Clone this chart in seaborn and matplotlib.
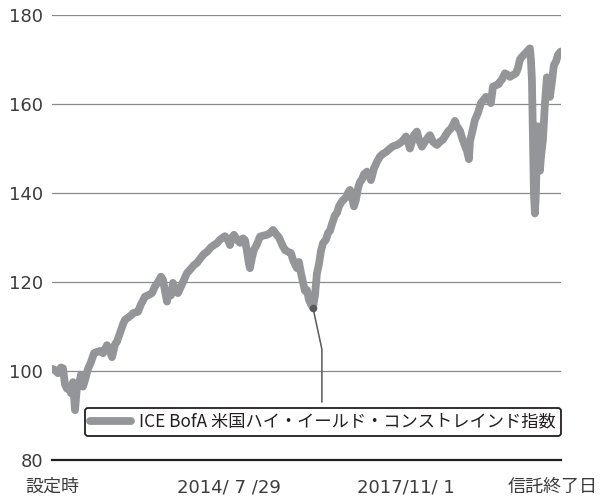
import numpy as np
import pandas as pd
import matplotlib
matplotlib.use("Agg")
import matplotlib.pyplot as plt
from matplotlib.lines import Line2D
import seaborn as sns

# ---------------- data ----------------
inception = "2011-04-25"
# elapsed months since inception
months = [0, 0.66, 1.33, 1.99, 2.43, 2.87, 3.32, 3.76, 4.20, 4.64, 5.09, 5.53, 5.97, 6.41, 6.85,
          7.30, 7.96, 8.62, 9.29, 9.95, 10.61, 11.28, 12.16, 12.82, 13.27, 13.93, 14.37, 15.03,
          15.70, 16.14, 16.80, 17.47, 17.91, 18.57, 19.01, 19.68, 20.56, 21.23, 22.11, 22.77,
          23.44, 24.10, 24.54, 24.98, 25.43, 25.87, 26.31, 26.75, 27.20, 27.86, 28.52, 29.19,
          29.85, 30.73, 31.40, 32.06, 32.94, 33.61, 34.27, 35.15, 35.82, 36.48, 37.14, 37.81,
          38.25, 38.91, 39.36, 39.80, 40.24, 40.90, 41.57, 42.23, 42.67, 43.11, 43.56, 43.78,
          44.22, 44.66, 45.33, 45.99, 46.65, 47.54, 48.20, 48.86, 49.53, 50.19, 50.63, 51.07,
          51.52, 52.18, 52.84, 53.29, 53.73, 54.17, 54.61, 55.05, 55.50, 55.94, 56.38, 56.82,
          57.26, 57.71, 58.15, 58.59, 59.03, 59.48, 59.92, 60.58, 61.02, 61.47, 61.91, 62.57,
          63.01, 63.46, 63.90, 64.34, 65.00, 65.45, 65.89, 66.33, 66.77, 67.21, 67.66, 68.10,
          68.54, 68.98, 69.65, 70.09, 70.53, 71.19, 71.86, 72.52, 73.18, 73.85, 74.73, 75.40,
          76.28, 76.94, 77.61, 78.27, 78.71, 79.15, 79.60, 80.04, 80.70, 81.14, 81.81, 82.47,
          83.13, 83.58, 84.24, 85.12, 85.79, 86.45, 86.89, 87.56, 88.22, 88.66, 89.10, 89.55,
          90.21, 90.65, 91.09, 91.54, 91.76, 92.20, 92.42, 92.86, 93.52, 94.19, 94.85, 95.51,
          95.96, 96.62, 97.06, 97.51, 98.17, 98.83, 99.05, 99.50, 100.16, 100.82, 101.26,
          101.93, 102.59, 103.03, 103.47, 103.92, 104.58, 105.24, 105.68, 105.91, 106.13,
          106.35, 106.57, 106.79, 107.01, 107.23, 107.45, 107.68, 107.90, 108.12, 108.56,
          109.00, 109.44, 109.89, 110.11, 110.55, 110.99, 111.43, 111.87, 112.32, 112.54]
index_values = [100.5, 100.2, 99.5, 100.8, 100.6, 97.0, 96.0, 96.5, 95.0, 97.5, 91.2, 96.5, 97.0,
                99.2, 96.5, 98.0, 100.5, 102.0, 104.0, 104.3, 104.5, 104.0, 105.8, 104.5, 103.1,
                106.0, 106.6, 108.5, 110.5, 111.5, 112.0, 112.5, 113.0, 113.2, 113.3, 115.0,
                116.7, 117.0, 117.5, 119.0, 120.0, 121.2, 120.5, 118.0, 115.6, 118.0, 117.0,
                119.8, 118.2, 117.5, 119.0, 120.5, 122.0, 123.0, 123.8, 124.3, 125.5, 126.3,
                126.8, 127.8, 128.3, 128.7, 129.5, 130.0, 130.3, 129.5, 128.3, 130.0, 130.6,
                129.5, 128.8, 129.8, 129.4, 127.0, 124.0, 123.1, 125.5, 127.2, 128.5, 130.2,
                130.4, 130.6, 131.0, 131.7, 130.8, 130.0, 129.0, 128.0, 127.2, 126.8, 126.5,
                125.0, 124.0, 123.1, 124.5, 122.0, 120.0, 118.0, 118.2, 116.0, 115.0, 114.2,
                117.0, 122.0, 124.0, 127.0, 128.7, 129.5, 131.0, 131.5, 133.0, 135.0, 135.5,
                137.0, 137.8, 138.4, 139.0, 140.0, 140.7, 139.0, 137.0, 138.5, 141.0, 142.5,
                143.0, 144.2, 144.8, 144.0, 142.9, 145.5, 147.0, 148.2, 148.8, 149.2, 150.0,
                150.5, 150.8, 151.2, 151.8, 152.7, 151.5, 150.0, 151.5, 153.0, 153.8, 152.0,
                150.4, 151.5, 152.5, 153.0, 151.5, 150.8, 151.5, 152.0, 152.7, 153.8, 154.5,
                155.2, 156.2, 155.0, 154.0, 152.5, 151.2, 150.0, 149.5, 147.6, 151.5, 153.5,
                156.4, 158.0, 160.2, 161.0, 161.6, 161.0, 160.2, 163.9, 164.2, 164.5, 165.0,
                165.5, 166.9, 166.5, 166.1, 166.5, 166.9, 168.0, 170.0, 170.6, 171.3, 172.0,
                172.5, 170.0, 165.4, 152.0, 140.0, 135.4, 140.0, 150.0, 155.0, 150.0, 145.0,
                148.0, 152.0, 160.0, 166.0, 163.0, 161.6, 165.0, 168.8, 169.5, 171.0, 171.6,
                171.8]
tick_dates = ["2011-04-25", "2014-07-29", "2017-11-01", "2020-09-10"]
tick_labels = ["設定時", "2014/ 7 /29", "2017/11/ 1", "信託終了日"]
y_ticks = [80, 100, 120, 140, 160, 180]
series_name = "ICE BofA 米国ハイ・イールド・コンストレインド指数"

# ---------------- style ----------------
sns.set_style("white")
plt.rcParams["font.family"] = ["DejaVu Sans", "Noto Sans CJK JP"]
TXT = "#3c3c3c"
LINE = "#939598"
CJK = ["Noto Sans CJK JP", "DejaVu Sans"]

dates = pd.Timestamp(inception) + pd.to_timedelta(np.array(months) * 30.4375, unit="D")
df = pd.DataFrame({"date": dates, "value": index_values})

fig = plt.figure(figsize=(6.0, 4.97), dpi=100)
ax = fig.add_axes([52 / 600, 1 - 460 / 497, (561 - 52) / 600, (460 - 15) / 497])

sns.lineplot(data=df, x="date", y="value", ax=ax, color=LINE, lw=5.6,
             solid_joinstyle="round", solid_capstyle="round", legend=False, zorder=3)

ax.set_ylim(80, 180)
xt = pd.to_datetime(tick_dates)
ax.set_xlim(xt[0], xt[-1])
ax.set_yticks(y_ticks)
ax.set_yticklabels([str(v) for v in y_ticks])
ax.set_xticks(xt)
ax.set_xticklabels(tick_labels[:-1] + [""])
ax.set_xlabel("")
ax.set_ylabel("")

ax.yaxis.grid(True, color="#8a8a8a", lw=0.9)
ax.xaxis.grid(False)
for s in ["left", "top", "right"]:
    ax.spines[s].set_visible(False)
ax.spines["bottom"].set_color("#231f20")
ax.spines["bottom"].set_linewidth(1.6)
ax.spines["bottom"].set_zorder(4)

ax.tick_params(axis="y", length=0, pad=6.5, labelsize=13, labelcolor=TXT)
ax.tick_params(axis="x", direction="in", length=6, width=1.6, color="#231f20",
               pad=13, labelsize=13, labelcolor=TXT)
for lab in ax.get_xticklabels():
    if not any(ch.isdigit() for ch in lab.get_text()):
        lab.set_fontfamily(CJK)
fig.text(598 / 600, 1 - 487 / 497, tick_labels[-1], ha="right", va="center",
         fontsize=13, color=TXT, family=CJK)

# callout: dot on 2016 trough, leader line down to legend
seg = [i for i, m in enumerate(months) if 50 <= m <= 65]
imin = min(seg, key=lambda i: index_values[i])
d0 = dates[imin]
v0 = index_values[imin]
elbow = d0 + pd.Timedelta(days=60)
ax.plot([d0, elbow, elbow], [v0, 104.9, 93.0], color="#58595b", lw=1.1, zorder=2)
ax.scatter([d0], [v0], s=30, color="#58595b", zorder=4, linewidths=0)

handle = Line2D([0], [0], color=LINE, lw=5.6, solid_capstyle="round")
leg = ax.legend([handle], [series_name], loc="lower right", bbox_to_anchor=(1.0, 0.054),
                borderaxespad=0, prop={"family": CJK, "size": 12.4}, frameon=True,
                fancybox=True, handlelength=2.4, handletextpad=0.45, borderpad=0.3,
                labelcolor="#231f20")
fr = leg.get_frame()
fr.set_edgecolor("#231f20")
fr.set_linewidth(1.3)
fr.set_facecolor("white")
fr.set_alpha(1)

fig.savefig("out.png", dpi=100)
